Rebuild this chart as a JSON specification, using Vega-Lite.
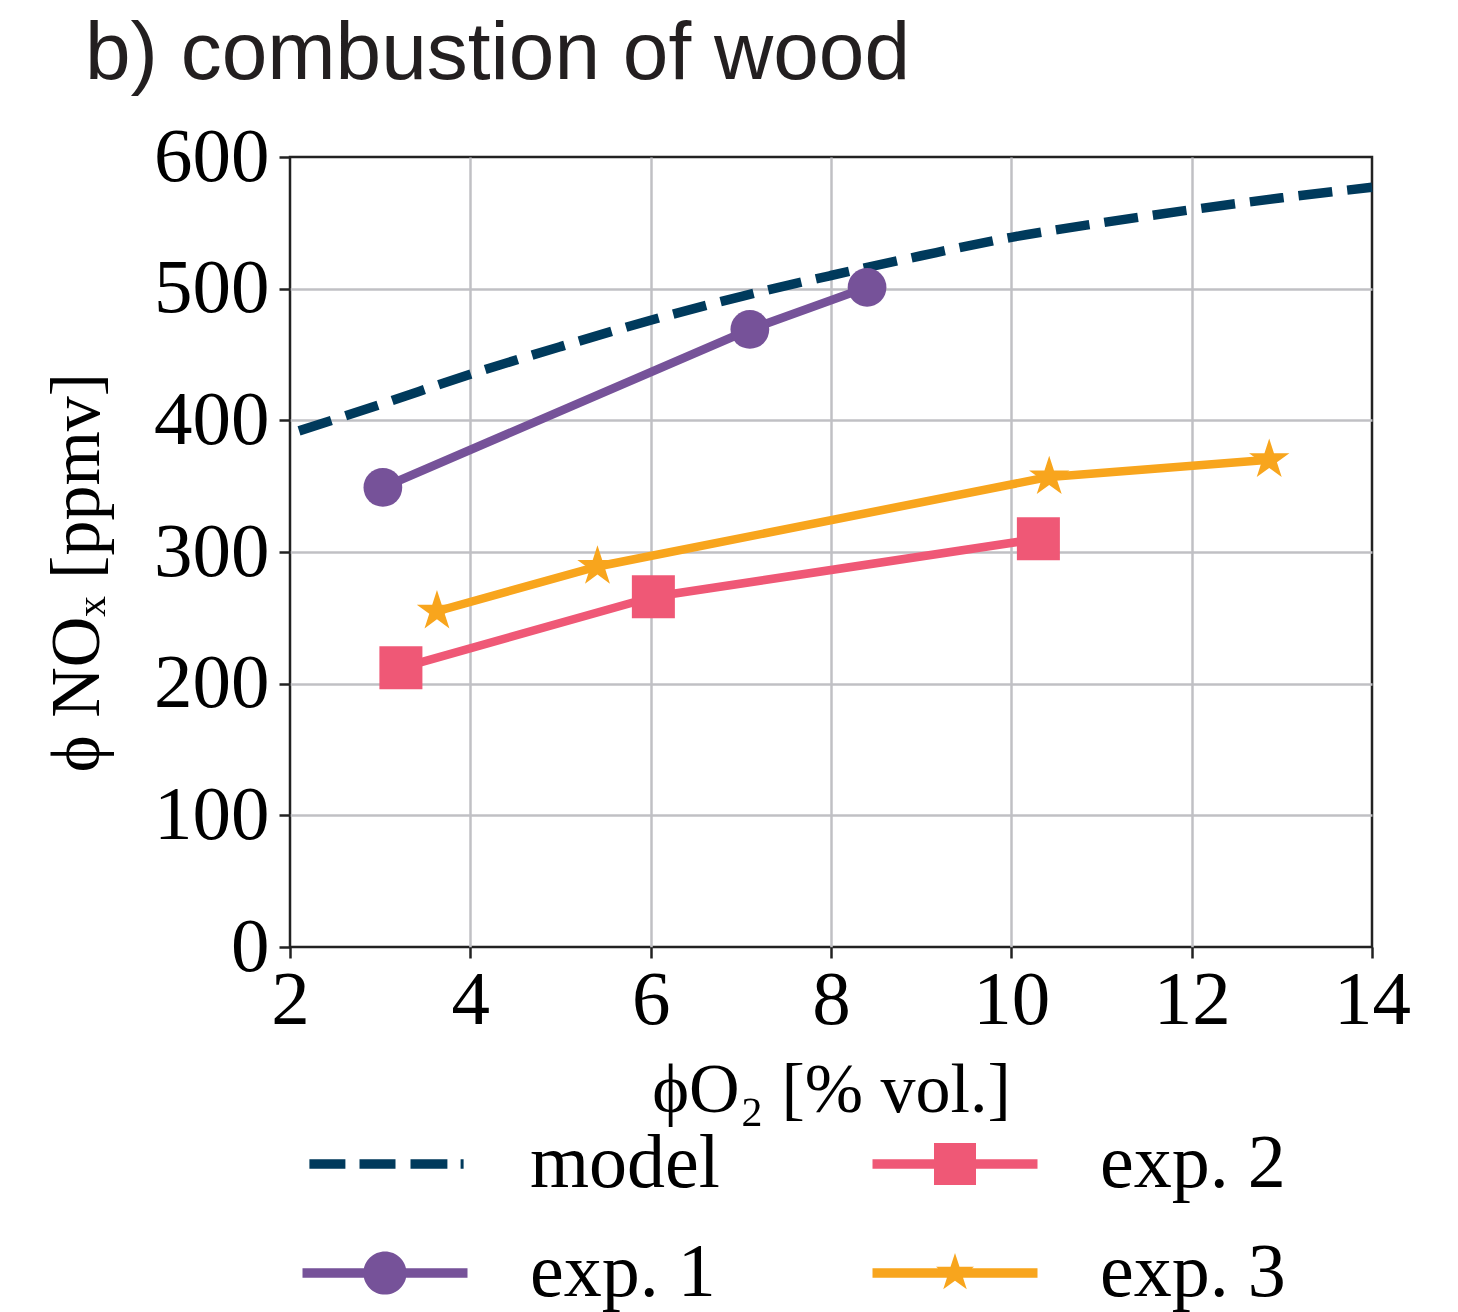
{
  "$schema": "https://vega.github.io/schema/vega-lite/v6.json",
  "autosize": "none",
  "width": 1082,
  "height": 790,
  "padding": {"left": 290, "top": 157, "right": 86, "bottom": 365},
  "background": "#ffffff",
  "title": {
    "text": "b) combustion of wood",
    "anchor": "start",
    "frame": "group",
    "dx": -205,
    "offset": 22,
    "font": "Liberation Sans",
    "fontSize": 82,
    "fontWeight": "normal",
    "color": "#231f20"
  },
  "config": {
    "view": {"stroke": "#222222", "strokeWidth": 2.5},
    "axis": {
      "domain": false,
      "grid": true,
      "gridColor": "#c0c0c4",
      "gridWidth": 2.5,
      "tickColor": "#222222",
      "tickWidth": 2.5,
      "tickSize": 11,
      "labelFont": "Liberation Serif",
      "labelFontSize": 77,
      "labelColor": "#000000",
      "labelFlush": false,
      "titleFont": "Liberation Serif",
      "titleFontSize": 70,
      "titleFontWeight": "normal",
      "titleColor": "#000000"
    },
    "legend": {
      "orient": "none",
      "legendX": 57,
      "legendY": 969,
      "columns": 2,
      "symbolSize": 3600,
      "symbolStrokeWidth": 0,
      "symbolOpacity": 1,
      "labelOffset": 107,
      "labelFont": "Liberation Serif",
      "labelFontSize": 76,
      "labelColor": "#000000",
      "labelLimit": 0,
      "rowPadding": 33,
      "columnPadding": 152,
      "padding": 0
    }
  },
  "datasets": {
    "main": [
      {"series": "model", "o2": 2.1, "nox": 392},
      {"series": "model", "o2": 3, "nox": 412},
      {"series": "model", "o2": 4, "nox": 435},
      {"series": "model", "o2": 5, "nox": 456},
      {"series": "model", "o2": 6, "nox": 476},
      {"series": "model", "o2": 7, "nox": 494},
      {"series": "model", "o2": 8, "nox": 510},
      {"series": "model", "o2": 9, "nox": 525},
      {"series": "model", "o2": 10, "nox": 539},
      {"series": "model", "o2": 11, "nox": 550},
      {"series": "model", "o2": 12, "nox": 560},
      {"series": "model", "o2": 13, "nox": 569},
      {"series": "model", "o2": 14, "nox": 577},
      {"series": "exp. 1", "o2": 3.03, "nox": 349},
      {"series": "exp. 1", "o2": 7.1, "nox": 469},
      {"series": "exp. 1", "o2": 8.4, "nox": 501},
      {"series": "exp. 2", "o2": 3.23, "nox": 212},
      {"series": "exp. 2", "o2": 6.03, "nox": 266},
      {"series": "exp. 2", "o2": 10.3, "nox": 310},
      {"series": "exp. 3", "o2": 3.63, "nox": 255},
      {"series": "exp. 3", "o2": 5.41, "nox": 289},
      {"series": "exp. 3", "o2": 10.42, "nox": 357},
      {"series": "exp. 3", "o2": 12.86, "nox": 370}
    ]
  },
  "data": {"name": "main"},
  "encoding": {
    "x": {
      "field": "o2",
      "type": "quantitative",
      "scale": {"domain": [2, 14], "nice": false, "zero": false},
      "axis": {
        "title": "ϕO₂ [% vol.]",
        "values": [2, 4, 6, 8, 10, 12, 14],
        "labelPadding": 4,
        "titlePadding": 18,
        "gridOpacity": {"condition": {"test": "datum.value <= 2 || datum.value >= 14", "value": 0}, "value": 1}
      }
    },
    "y": {
      "field": "nox",
      "type": "quantitative",
      "scale": {"domain": [0, 600], "nice": false},
      "axis": {
        "title": "ϕ NOₓ [ppmv]",
        "values": [0, 100, 200, 300, 400, 500, 600],
        "labelPadding": 10,
        "titlePadding": 40,
        "titleY": 415,
        "gridOpacity": {"condition": {"test": "datum.value <= 0 || datum.value >= 600", "value": 0}, "value": 1}
      }
    }
  },
  "layer": [
    {
      "transform": [{"filter": "datum.series === 'model'"}],
      "mark": {"type": "line", "color": "#003a5c", "strokeWidth": 9.5, "strokeDash": [34, 15], "interpolate": "monotone", "strokeCap": "butt"}
    },
    {
      "transform": [{"filter": "datum.series === 'exp. 1'"}],
      "mark": {"type": "line", "color": "#765299", "strokeWidth": 8.5, "strokeJoin": "round"}
    },
    {
      "transform": [{"filter": "datum.series === 'exp. 1'"}],
      "mark": {"type": "point", "shape": "circle", "filled": true, "color": "#765299", "size": 1500, "opacity": 1, "strokeWidth": 0}
    },
    {
      "transform": [{"filter": "datum.series === 'exp. 2'"}],
      "mark": {"type": "line", "color": "#ef5876", "strokeWidth": 8.5, "strokeJoin": "round"}
    },
    {
      "transform": [{"filter": "datum.series === 'exp. 2'"}],
      "mark": {"type": "point", "shape": "square", "filled": true, "color": "#ef5876", "size": 1850, "opacity": 1, "strokeWidth": 0}
    },
    {
      "transform": [{"filter": "datum.series === 'exp. 3'"}],
      "mark": {"type": "line", "color": "#f8a51d", "strokeWidth": 8.5, "strokeJoin": "round"}
    },
    {
      "transform": [{"filter": "datum.series === 'exp. 3'"}],
      "mark": {"type": "point", "shape": "M0,-1L0.2245,-0.309L0.951,-0.309L0.3633,0.118L0.588,0.809L0,0.382L-0.588,0.809L-0.3633,0.118L-0.951,-0.309L-0.2245,-0.309Z", "filled": true, "color": "#f8a51d", "size": 1800, "opacity": 1, "strokeWidth": 0}
    },
    {
      "transform": [{"filter": "false"}],
      "mark": {"type": "point", "filled": true, "opacity": 1, "strokeWidth": 0},
      "encoding": {
        "color": {
          "field": "series",
          "type": "nominal",
          "scale": {"domain": ["model", "exp. 1", "exp. 2", "exp. 3"], "range": ["#003a5c", "#765299", "#ef5876", "#f8a51d"]},
          "legend": {"title": null}
        },
        "shape": {
          "field": "series",
          "type": "nominal",
          "scale": {
            "domain": ["model", "exp. 1", "exp. 2", "exp. 3"],
            "range": [
              "M-2.52,-0.16H-1.32V0.16H-2.52ZM-0.85,-0.16H0.35V0.16H-0.85ZM0.85,-0.16H2.08V0.16H0.85ZM2.52,-0.16H2.62V0.16H2.52Z",
              "M-2.75,-0.16H2.75V0.16H-2.75ZM0.72,0A0.72,0.72 0 1,1 -0.72,0A0.72,0.72 0 1,1 0.72,0Z",
              "M-2.75,-0.16H2.75V0.16H-2.75ZM-0.7,-0.7H0.7V0.7H-0.7Z",
              "M-2.75,-0.16H2.75V0.16H-2.75ZM0,-0.667L0.15,-0.206L0.634,-0.206L0.242,0.079L0.392,0.539L0,0.255L-0.392,0.539L-0.242,0.079L-0.634,-0.206L-0.15,-0.206Z"
            ]
          },
          "legend": {"title": null}
        }
      }
    }
  ]
}
